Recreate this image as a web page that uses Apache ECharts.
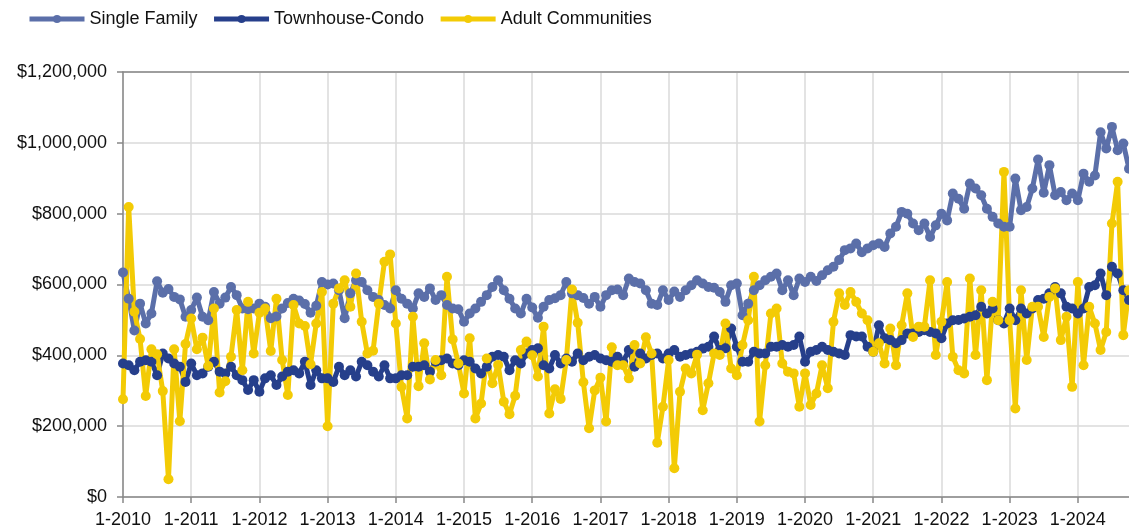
<!DOCTYPE html>
<html>
<head>
<meta charset="utf-8">
<title>Median Sales Price</title>
<script src="https://cdn.jsdelivr.net/npm/echarts@6/dist/echarts.min.js"></script>
<style>
  html, body { margin: 0; padding: 0; background: #fff; }
  #chart { width: 1129px; height: 532px; }
</style>
</head>
<body>
<div id="chart"></div>
<script>
// monthly values in thousands of dollars, Jan 2010 .. Oct 2024
var singleFamily = [
  634, 560, 470, 546, 490, 518, 609, 577, 587, 565, 558, 509,
  528, 563, 509, 499, 579, 546, 563, 593, 570, 532, 530, 532,
  546, 537, 505, 510, 532, 548, 560, 555, 545, 520, 540, 607,
  600, 603, 584, 505, 575, 612, 607, 584, 565, 556, 542, 532,
  584, 560, 546, 532, 575, 565, 589, 556, 570, 542, 532, 530,
  495, 518, 532, 551, 570, 593, 612, 584, 560, 532, 518, 560,
  535, 506, 537, 556, 561, 570, 607, 575, 570, 562, 546, 565,
  537, 570, 584, 586, 570, 617, 607, 603, 584, 546, 542, 584,
  556, 580, 565, 584, 598, 612, 603, 593, 591, 579, 551, 598,
  603, 513, 546, 584, 598, 612, 622, 631, 584, 612, 570, 617,
  607, 622, 610, 626, 640, 650, 669, 697, 702, 716, 691, 702,
  711, 716, 706, 744, 763, 805, 800, 772, 753, 772, 734, 767,
  800, 781, 857, 842, 814, 885, 871, 852, 814, 791, 772, 763,
  763, 899, 810, 819, 871, 953, 859, 937, 852, 861, 838, 857,
  838, 913, 890, 908, 1030, 984, 1045, 979, 998, 927
];
var townhouseCondo = [
  377, 372, 358, 382, 386, 382, 344, 405, 391, 377, 368, 325,
  377, 344, 349, 368, 382, 354, 349, 368, 344, 330, 302, 330,
  297, 335, 344, 316, 340, 354, 358, 349, 382, 316, 358, 335,
  335, 325, 368, 344, 358, 340, 382, 372, 354, 340, 372, 335,
  335, 344, 344, 368, 368, 372, 354, 382, 386, 391, 377, 372,
  386, 382, 363, 349, 368, 396, 401, 396, 358, 386, 377, 405,
  415, 420, 372, 363, 401, 377, 391, 382, 405, 386, 396, 401,
  391, 386, 382, 396, 382, 415, 368, 405, 391, 401, 405, 391,
  405, 415, 396, 401, 405, 410, 419, 424, 453, 415, 420, 476,
  424, 382, 382, 410, 405, 405, 424, 424, 429, 424, 429, 453,
  382, 410, 415, 424, 415, 410, 405, 401, 457, 453, 453, 424,
  410, 485, 448, 443, 434, 443, 462, 462, 466, 471, 466, 462,
  448, 490, 499, 500, 504, 509, 513, 537, 518, 532, 499, 490,
  532, 499, 532, 518, 532, 556, 560, 575, 593, 575, 537, 532,
  518, 532, 593, 598, 631, 570, 650, 631, 584, 556
];
var adultCommunities = [
  276, 819, 523, 446, 285, 417, 403, 299, 50, 417, 214, 432,
  504, 417, 450, 370, 532, 295, 327, 396, 528, 358, 551, 405,
  520, 532, 412, 560, 387, 288, 542, 490, 483, 375, 490, 579,
  200, 546, 589, 612, 537, 631, 495, 405, 413, 546, 664, 685,
  490, 311, 222, 509, 313, 434, 332, 387, 344, 622, 445, 377,
  292, 448, 222, 264, 391, 321, 373, 269, 234, 286, 415, 439,
  400, 340, 481, 236, 304, 277, 387, 586, 492, 324, 194, 301,
  337, 213, 423, 372, 372, 335, 429, 377, 451, 405, 153, 255,
  387, 81, 297, 363, 349, 402, 245, 321, 405, 401, 490, 363,
  344, 429, 499, 622, 213, 372, 518, 532, 377, 354, 349, 255,
  349, 260, 292, 372, 307, 495, 575, 542, 579, 551, 518, 499,
  410, 434, 377, 476, 372, 485, 575, 452, 481, 481, 612, 401,
  495, 607, 396, 358, 349, 617, 401, 584, 330, 551, 499, 918,
  499, 250, 584, 387, 537, 537, 452, 565, 589, 443, 509, 311,
  607, 372, 537, 490, 415, 466, 772, 890, 457, 584
];

var firstYear = 2010;
var months = singleFamily.map(function (v, i) {
  return (i % 12 + 1) + '-' + (firstYear + Math.floor(i / 12));
});

var yTicks = [0, 200000, 400000, 600000, 800000, 1000000, 1200000];

var fontFamily = '"Liberation Sans", Arial, sans-serif';
var isJanuary = function (idx) { return idx % 12 === 0; };

function toDollars(arr) {
  return arr.map(function (v) { return v * 1000; });
}

function lineSeries(name, values, color) {
  return {
    name: name,
    type: 'line',
    data: toDollars(values),
    symbol: 'circle',
    symbolSize: 10,
    showAllSymbol: true,
    lineStyle: { width: 5, color: color },
    itemStyle: { color: color },
    emphasis: { disabled: true }
  };
}

var chart = echarts.init(document.getElementById('chart'));

var option = {
  animation: false,
  backgroundColor: '#fff',
  textStyle: { fontFamily: fontFamily },
  legend: {
    left: 27,
    top: 10,
    padding: 0,
    itemWidth: 55,
    itemHeight: 10,
    itemGap: 14,
    lineStyle: { width: 5 },
    textStyle: { fontSize: 18, color: '#111', fontFamily: fontFamily },
    data: ['Single Family', 'Townhouse-Condo', 'Adult Communities']
  },
  grid: {
    left: 123,
    right: 0,
    top: 72,
    bottom: 35,
    containLabel: false
  },
  xAxis: [
    {
      type: 'category',
      data: months,
      boundaryGap: false,
      axisLine: { lineStyle: { color: '#888', width: 1.5 } },
      axisTick: { interval: isJanuary, length: 6, lineStyle: { color: '#888', width: 1.5 } },
      axisLabel: {
        interval: isJanuary,
        margin: 14,
        fontSize: 18,
        color: '#111',
        fontFamily: fontFamily
      },
      splitLine: { show: true, interval: isJanuary, lineStyle: { color: '#dadada', width: 1.5 } }
    },
    {
      // top border of the plot
      type: 'category',
      data: months,
      position: 'top',
      boundaryGap: false,
      axisLine: { lineStyle: { color: '#888', width: 1.5 } },
      axisTick: { show: false },
      axisLabel: { show: false },
      splitLine: { show: false }
    }
  ],
  yAxis: {
    type: 'value',
    min: yTicks[0],
    max: yTicks[yTicks.length - 1],
    interval: yTicks[1] - yTicks[0],
    axisLine: { show: true, lineStyle: { color: '#888', width: 1.5 } },
    axisTick: { show: true, length: 6, lineStyle: { color: '#888', width: 1.5 } },
    axisLabel: {
      margin: 16,
      fontSize: 18,
      color: '#111',
      fontFamily: fontFamily,
      formatter: function (v) { return '$' + v.toLocaleString('en-US'); }
    },
    splitLine: { lineStyle: { color: '#dadada', width: 1.5 } }
  },
  series: [
    lineSeries('Single Family', singleFamily, '#5b6fa9'),
    lineSeries('Townhouse-Condo', townhouseCondo, '#263f8b'),
    lineSeries('Adult Communities', adultCommunities, '#f3cb05')
  ]
};

chart.setOption(option);
</script>
</body>
</html>
